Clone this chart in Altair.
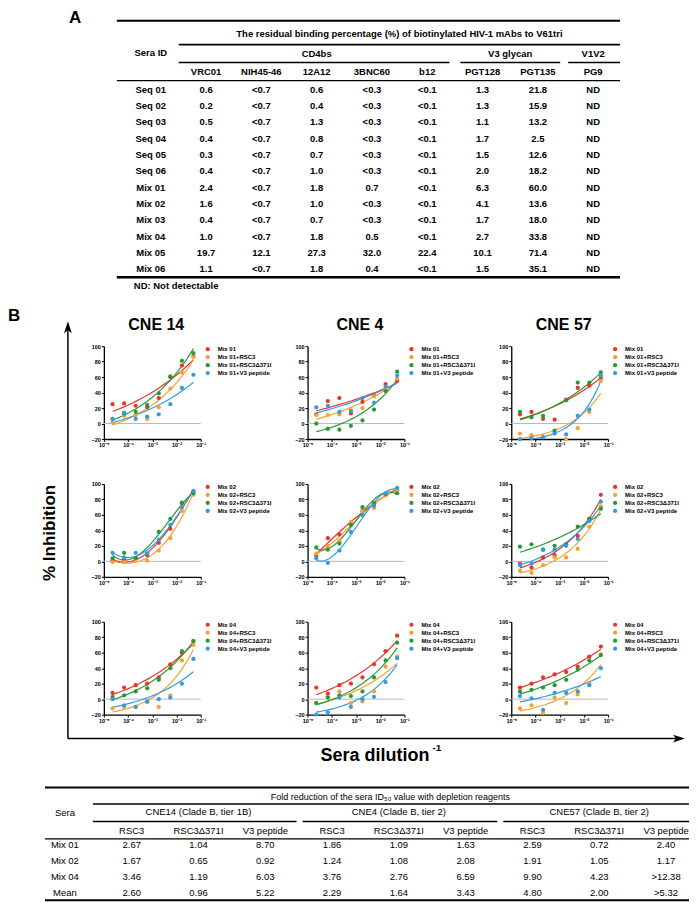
import altair as alt
import pandas as pd

# ---------------- Panel B data ----------------
DILUTIONS = [2.29e-5, 6.86e-5, 2.06e-4, 6.17e-4, 1.85e-3, 5.56e-3, 1.67e-2, 5.0e-2]
STRAINS = ["CNE 14", "CNE 4", "CNE 57"]
MIXES = ["Mix 01", "Mix 02", "Mix 04"]
SUFFIXES = ["", "+RSC3", "+RSC3\u0394371I", "+V3 peptide"]
COLORS = ["#e8352b", "#f6a032", "#279a35", "#2f9de5"]

# order of series: serum, +RSC3, +RSC3Δ371I, +V3 peptide
CNE14_MIX01 = [[25, 26, 23, 21, 33, 60, 75, 87], [1, 10, 11, 6, 21, 45, 66, 86],
               [6, 13, 15, 24, 39, 61, 81, 91], [6, 14, 6, 9, 12, 25, 46, 63]]
CNE4_MIX01 = [[12, 29, 33, 13, 28, 36, 51, 55], [11, 11, 12, 17, 20, 35, 45, 58],
              [0, -7, -8, -3, 4, 18, 42, 67], [21, 23, 15, 16, 33, 27, 48, 62]]
CNE57_MIX01 = [[12, 15, 6, 5, 31, 46, 49, 59], [-13, -15, -17, -12, -20, -6, 15, 55],
               [15, 8, 10, -9, 30, 53, 53, 66], [-20, -19, -18, -13, -14, 10, 18, 62]]
CNE14_MIX02 = [[1, 2, 4, 8, 24, 42, 75, 90], [-1, -1, 3, 1, 14, 30, 65, 86],
               [4, 11, 4, 10, 38, 55, 76, 88], [11, 5, 11, 10, 28, 47, 70, 91]]
CNE4_MIX02 = [[7, 30, 35, 48, 65, 75, 86, 93], [10, 20, 26, 51, 65, 69, 85, 92],
              [18, 15, 23, 47, 70, 75, 87, 88], [4, -2, 14, 38, 60, 72, 88, 95]]
CNE57_MIX02 = [[-3, -8, 5, 8, 21, 33, 55, 86], [-12, -15, -5, 5, 5, 16, 45, 71],
               [19, 22, 15, 20, 22, 45, 55, 68], [-5, -3, 15, 15, 20, 29, 52, 77]]
CNE14_MIX04 = [[8, 15, 18, 20, 28, 45, 60, 75], [-12, -10, -10, -4, -10, 5, 50, 70],
               [3, 5, 10, 14, 25, 40, 62, 75], [0, -8, -10, -3, 0, 2, 20, 52]]
CNE4_MIX04 = [[15, 7, 18, 20, 28, 45, 62, 82], [-5, 3, 10, -5, -3, 10, 42, 55],
              [-5, 2, 5, 4, 10, 28, 50, 73], [-20, -17, 2, -10, 0, 3, 22, 53]]
CNE57_MIX04 = [[15, 20, 28, 32, 35, 42, 55, 68], [-12, -8, -18, 2, -5, 6, 20, 58],
               [10, 12, 15, 18, 25, 38, 50, 57], [4, 1, -14, 8, 8, 10, 18, 40]]
PANELS = [[CNE14_MIX01, CNE4_MIX01, CNE57_MIX01],
          [CNE14_MIX02, CNE4_MIX02, CNE57_MIX02],
          [CNE14_MIX04, CNE4_MIX04, CNE57_MIX04]]

# ---------------- Table A data ----------------
TITLE_A = "The residual binding percentage (%) of biotinylated HIV-1 mAbs to V61tri"
GROUPS_A = ["CD4bs", "V3 glycan", "V1V2"]
SERA_IDS = ["Seq 01", "Seq 02", "Seq 03", "Seq 04", "Seq 05", "Seq 06",
            "Mix 01", "Mix 02", "Mix 03", "Mix 04", "Mix 05", "Mix 06"]
MABS = ["VRC01", "NIH45-46", "12A12", "3BNC60", "b12", "PGT128", "PGT135", "PG9"]
VRC01 = ["0.6", "0.2", "0.5", "0.4", "0.3", "0.4", "2.4", "1.6", "0.4", "1.0", "19.7", "1.1"]
NIH45_46 = ["<0.7", "<0.7", "<0.7", "<0.7", "<0.7", "<0.7", "<0.7", "<0.7", "<0.7", "<0.7", "12.1", "<0.7"]
A12A12 = ["0.6", "0.4", "1.3", "0.8", "0.7", "1.0", "1.8", "1.0", "0.7", "1.8", "27.3", "1.8"]
BNC60 = ["<0.3", "<0.3", "<0.3", "<0.3", "<0.3", "<0.3", "0.7", "<0.3", "<0.3", "0.5", "32.0", "0.4"]
B12 = ["<0.1", "<0.1", "<0.1", "<0.1", "<0.1", "<0.1", "<0.1", "<0.1", "<0.1", "<0.1", "22.4", "<0.1"]
PGT128 = ["1.3", "1.3", "1.1", "1.7", "1.5", "2.0", "6.3", "4.1", "1.7", "2.7", "10.1", "1.5"]
PGT135 = ["21.8", "15.9", "13.2", "2.5", "12.6", "18.2", "60.0", "13.6", "18.0", "33.8", "71.4", "35.1"]
PG9 = ["ND"] * 12
TABLE_A_VALUES = [VRC01, NIH45_46, A12A12, BNC60, B12, PGT128, PGT135, PG9]
NOTE_A = "ND: Not detectable"

# ---------------- Table B data ----------------
TITLE_B = "Fold reduction of the sera ID\u2085\u2080 value with depletion reagents"
GROUPS_B = ["CNE14 (Clade B, tier 1B)", "CNE4 (Clade B, tier 2)", "CNE57 (Clade B, tier 2)"]
REAGENTS = ["RSC3", "RSC3\u0394371I", "V3 peptide"]
SERA_B = ["Mix 01", "Mix 02", "Mix 04", "Mean"]
CNE14_RSC3 = ["2.67", "1.67", "3.46", "2.60"]
CNE14_RSC3D = ["1.04", "0.65", "1.19", "0.96"]
CNE14_V3 = ["8.70", "0.92", "6.03", "5.22"]
CNE4_RSC3 = ["1.86", "1.24", "3.76", "2.29"]
CNE4_RSC3D = ["1.09", "1.08", "2.76", "1.64"]
CNE4_V3 = ["1.63", "2.08", "6.59", "3.43"]
CNE57_RSC3 = ["2.59", "1.91", "9.90", "4.80"]
CNE57_RSC3D = ["0.72", "1.05", "4.23", "2.00"]
CNE57_V3 = ["2.40", "1.17", ">12.38", ">5.32"]
TABLE_B_VALUES = [CNE14_RSC3, CNE14_RSC3D, CNE14_V3, CNE4_RSC3, CNE4_RSC3D, CNE4_V3,
                  CNE57_RSC3, CNE57_RSC3D, CNE57_V3]

# ---------------- styling ----------------
FONT = "Liberation Sans, Arial, sans-serif"
NARROW = "Liberation Sans Narrow, Arial Narrow, Liberation Sans, Arial, sans-serif"
PW, PH = 97, 93
ONE = pd.DataFrame({"_": [0]})

SUP_EXPR = ("datum.value < 5e-5 ? '10\u207b\u2075' : datum.value < 5e-4 ? '10\u207b\u2074' : "
            "datum.value < 5e-3 ? '10\u207b\u00b3' : datum.value < 5e-2 ? '10\u207b\u00b2' : '10\u207b\u00b9'")


def txt(s, x, y, size, weight="bold", align="center", baseline="middle", font=FONT, angle=None):
    kw = dict(text=s, fontSize=size, fontWeight=weight, align=align, baseline=baseline,
              font=font, color="black")
    if angle is not None:
        kw["angle"] = angle
    return alt.Chart(ONE).mark_text(**kw).encode(x=alt.value(x), y=alt.value(y))


def hrule(x1, x2, y, w):
    return alt.Chart(ONE).mark_rule(color="black", strokeWidth=w).encode(
        x=alt.value(x1), x2=alt.value(x2), y=alt.value(y))


def panel_layer(mix, series, sigmoid):
    labels = [mix + s for s in SUFFIXES]
    df = pd.DataFrame([{"series": lab, "dil": d, "inh": v}
                       for lab, vals in zip(labels, series)
                       for d, v in zip(DILUTIONS, vals)])
    base = alt.Chart(df)
    xs = alt.Scale(type="log", domain=[1e-5, 1e-1], nice=False)
    ys = alt.Scale(domain=[-20, 100], nice=False, zero=False)
    cs = alt.Scale(domain=labels, range=COLORS)
    xaxis = alt.Axis(values=[1e-5, 1e-4, 1e-3, 1e-2, 1e-1], labelExpr=SUP_EXPR, title=None,
                     grid=False, domainColor="black", domainWidth=1.3, tickColor="black",
                     tickSize=2.5, tickWidth=1, labelFontSize=5.5, labelFont=FONT,
                     labelFontWeight="bold", labelColor="black", labelPadding=1,
                     labelFlush=False, labelOverlap=False)
    yaxis = alt.Axis(values=[-20, 0, 20, 40, 60, 80, 100], title=None, grid=False,
                     domainColor="black", domainWidth=1.3, tickColor="black", tickSize=2.5,
                     tickWidth=1, labelFontSize=5.5, labelFont=FONT, labelFontWeight="bold",
                     labelColor="black", labelPadding=1)
    leg = alt.Legend(title=None, orient="right", offset=4, padding=0, labelFontSize=6,
                     labelFont=FONT, labelFontWeight="bold", labelColor="black",
                     symbolType="circle", symbolSize=18, symbolStrokeWidth=0, rowPadding=2,
                     labelOffset=7, labelLimit=150)
    zero = alt.Chart(ONE).mark_rule(color="#b8b8b8", strokeWidth=1).encode(
        x=alt.value(0), x2=alt.value(PW),
        y=alt.YDatum(0, type="quantitative", scale=ys, axis=yaxis))
    if sigmoid:
        fit = (base.transform_calculate(lx="log(datum.dil)/LN10")
               .transform_regression("lx", "inh", groupby=["series"], method="poly", order=3)
               .transform_calculate(dil="pow(10, datum.lx)"))
    else:
        fit = (base.transform_calculate(lx="log(datum.dil)/LN10", sh="datum.inh + 25")
               .transform_regression("lx", "sh", groupby=["series"], method="exp")
               .transform_calculate(dil="pow(10, datum.lx)", inh="datum.sh - 25"))
    lines = fit.mark_line(strokeWidth=1.2, clip=True).encode(
        x=alt.X("dil:Q", scale=xs, axis=xaxis),
        y=alt.Y("inh:Q", scale=ys, axis=yaxis),
        stroke=alt.Stroke("series:N", scale=cs, legend=None))
    pts = base.mark_circle(size=18, opacity=1).encode(
        x=alt.X("dil:Q", scale=xs, axis=xaxis),
        y=alt.Y("inh:Q", scale=ys, axis=yaxis),
        color=alt.Color("series:N", scale=cs, legend=leg))
    return alt.layer(zero, lines, pts)


def table_a():
    cols = ["Sera ID"] + MABS
    recs = [{"r": r, "c": "Sera ID", "t": r} for r in SERA_IDS]
    recs += [{"r": r, "c": c, "t": v} for c, vals in zip(MABS, TABLE_A_VALUES)
             for r, v in zip(SERA_IDS, vals)]
    xa = alt.X("c:N", scale=alt.Scale(type="point", domain=cols, range=[47, 490], padding=0), axis=None)
    ya = alt.Y("r:N", scale=alt.Scale(type="point", domain=SERA_IDS, range=[-256.7, -77.0], padding=0),
               axis=None)
    st = dict(font=FONT, fontSize=9.5, fontWeight="bold", color="black")
    cells = alt.Chart(pd.DataFrame(recs)).mark_text(**st).encode(x=xa, y=ya, text="t:N")
    heads = alt.Chart(pd.DataFrame({"c": MABS})).mark_text(**st).encode(
        x=xa, y=alt.value(-274.3), text="c:N")
    sera = alt.Chart(pd.DataFrame({"c": ["Sera ID"]})).mark_text(**st).encode(
        x=xa, y=alt.value(-294), text="c:N")
    g1 = alt.Chart(ONE).mark_text(text=GROUPS_A[0], **st).encode(
        x=alt.XDatum("12A12", type="nominal"), y=alt.value(-293))
    g2 = alt.Chart(ONE).mark_text(text=GROUPS_A[1], dx=27.7, **st).encode(
        x=alt.XDatum("PGT128", type="nominal"), y=alt.value(-293))
    g3 = alt.Chart(ONE).mark_text(text=GROUPS_A[2], **st).encode(
        x=alt.XDatum("PG9", type="nominal"), y=alt.value(-293))
    return alt.layer(
        cells, heads, sera, g1, g2, g3,
        txt("A", -35, -337, 17, align="left", baseline="top"),
        txt(TITLE_A, 296, -313, 9.5),
        txt(NOTE_A, 30, -60, 9.5, align="left"),
        hrule(13, 517, -326, 2), hrule(75, 517, -302, 1.6),
        hrule(75, 346, -284, 1.6), hrule(357, 457, -284, 1.6), hrule(465, 517, -284, 1.6),
        hrule(13, 517, -266, 1.3), hrule(13, 517, -69, 2.5),
    )


def table_b():
    strain_keys = ["CNE14", "CNE4", "CNE57"]
    keys = ["Sera"] + [f"{s}|{r}" for s in strain_keys for r in REAGENTS]
    recs = [{"r": r, "c": "Sera", "t": r} for r in SERA_B]
    recs += [{"r": r, "c": k, "t": v} for k, vals in zip(keys[1:], TABLE_B_VALUES)
             for r, v in zip(SERA_B, vals)]
    xb = alt.X("c:N", scale=alt.Scale(type="point", domain=keys, range=[-39, 563], padding=0), axis=None)
    yb = alt.Y("r:N", scale=alt.Scale(type="point", domain=SERA_B, range=[500, 548], padding=0), axis=None)
    st = dict(font=FONT, fontSize=9.5, fontWeight="normal", color="black")
    cells = alt.Chart(pd.DataFrame(recs)).mark_text(**st).encode(x=xb, y=yb, text="t:N")
    hdf = pd.DataFrame({"c": keys[1:], "lab": [r for _ in strain_keys for r in REAGENTS]})
    heads = alt.Chart(hdf).mark_text(**st).encode(x=xb, y=alt.value(486), text="lab:N")
    sera = alt.Chart(pd.DataFrame({"c": ["Sera"]})).mark_text(**st).encode(
        x=xb, y=alt.value(467.5), text="c:N")
    groups = [alt.Chart(ONE).mark_text(text=g, **st).encode(
        x=alt.XDatum(f"{s}|{REAGENTS[1]}", type="nominal"), y=alt.value(467))
        for g, s in zip(GROUPS_B, strain_keys)]
    return alt.layer(
        cells, heads, sera, *groups,
        txt(TITLE_B, 287, 452, 9, weight="normal"),
        hrule(-59, 586, 442, 2), hrule(-11, 586, 458.5, 1.6),
        hrule(-11, 193, 476, 1.6), hrule(199, 394, 476, 1.6), hrule(400, 586, 476, 1.6),
        hrule(-59, 586, 493.5, 1.2), hrule(-59, 586, 555, 2),
    )


def annotations():
    vline = alt.Chart(ONE).mark_rule(color="black", strokeWidth=1.5).encode(
        x=alt.value(-36), y=alt.value(-16), y2=alt.value(393))
    up = alt.Chart(ONE).mark_point(shape="M0,-1L0.65,1L0,0.5L-0.65,1Z", filled=True, size=144,
                                   color="black", opacity=1).encode(
        x=alt.value(-36), y=alt.value(-19))
    right = alt.Chart(ONE).mark_point(shape="M1,0L-1,0.65L-0.5,0L-1,-0.65Z", filled=True, size=144,
                                      color="black", opacity=1).encode(
        x=alt.value(576), y=alt.value(393))
    return alt.layer(
        txt("B", -96, -38, 17, align="left", baseline="top"),
        vline, hrule(-36, 573, 393, 1.5), up, right,
        txt("% Inhibition", -54, 187, 17, angle=270),
        txt("Sera dilution", 326, 410, 18, align="right"),
        txt("-1", 329, 402, 10, align="left"),
    )


charts = []
for i, mix in enumerate(MIXES):
    for j, strain in enumerate(STRAINS):
        # full sigmoids (Mix 02 on CNE 14 / CNE 4) use a cubic fit, the rest an exponential rise
        ch = panel_layer(mix, PANELS[i][j], sigmoid=(i == 1 and j < 2))
        extra = []
        if i == 0:
            extra.append(txt(strain, PW / 2 + 4, -21, 16, font=NARROW))
        if i == 0 and j == 0:
            extra += [table_a(), table_b(), annotations()]
        if extra:
            ch = alt.layer(ch, *extra).resolve_scale(x="independent", y="independent")
        charts.append(ch.properties(width=PW, height=PH))

chart = alt.concat(*charts, columns=3, spacing={"row": 45, "column": 107},
                   bounds="flush", padding=0).resolve_scale(
    x="independent", y="independent", color="independent").configure_view(stroke=None)

chart.save("out.html", embed_options={"renderer": "svg", "actions": False})
